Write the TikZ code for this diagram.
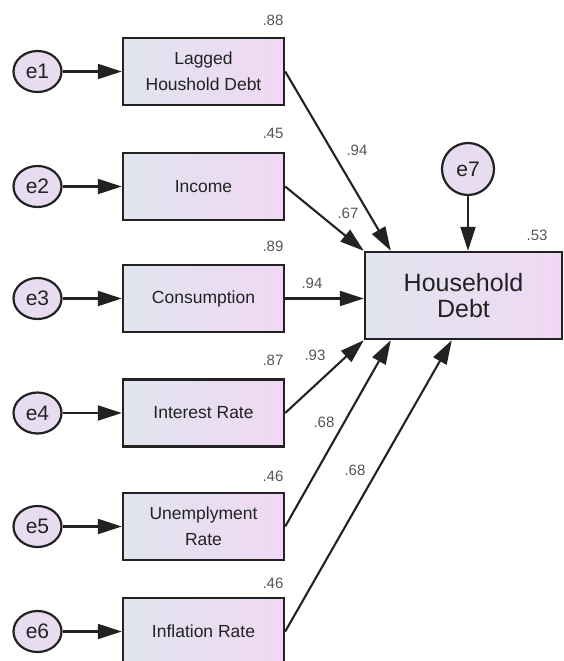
\documentclass[tikz,border=0pt]{standalone}
\usepackage{fontspec}
\setmainfont{Liberation Sans}
\usetikzlibrary{arrows.meta,positioning,shapes.geometric}

\definecolor{boxleft}{HTML}{E0E5EE}
\definecolor{boxright}{HTML}{F0D8F4}
\definecolor{errfill}{HTML}{E8DDF0}
\definecolor{ink}{HTML}{222222}
\definecolor{coef}{HTML}{555555}

\begin{document}
\begin{tikzpicture}[
      x=1pt, y=-1pt,
      font=\fontsize{17.5}{26}\selectfont,
      obs/.style={draw=ink, line width=2.4pt, rectangle, align=center, text=ink,
        minimum width=161pt, minimum height=67pt, left color=boxleft, right color=boxright},
      dep/.style={obs, minimum width=197pt, minimum height=87pt,
        font=\fontsize{25}{26}\selectfont},
      errv/.style={draw=ink, line width=2.2pt, ellipse, fill=errfill, text=ink,
        minimum width=48pt, minimum height=41pt, inner sep=0pt, font=\fontsize{21}{22}\selectfont},
      coefl/.style={text=coef, font=\fontsize{15}{17}\selectfont},
      arrow/.style={-{Triangle[length=24pt, width=15pt]}, line width=2.1pt, draw=ink}
    ]
    \useasboundingbox (0,0) rectangle (564,661);

    \node[obs] (lag) at (203.5,71.5) {Lagged\\Houshold Debt};
    \node[obs] (inc) at (203.5,186.5) {Income};
    \node[obs] (cons) at (203.5,298.5) {Consumption};
    \node[obs] (intr) at (203.5,413) {Interest Rate};
    \node[obs] (unemp) at (203.5,526.5) {Unemplyment\\Rate};
    \node[obs] (infl) at (203.5,631.5) {Inflation Rate};
    \node[dep] (hd) at (463.5,295.5) {Household\\Debt};

    \node[errv] (e1) at (37.5,71.5) {e1};
    \node[errv] (e2) at (37.5,186.5) {e2};
    \node[errv] (e3) at (37.5,298.5) {e3};
    \node[errv] (e4) at (37.5,413) {e4};
    \node[errv] (e5) at (37.5,526.5) {e5};
    \node[errv] (e6) at (37.5,631.5) {e6};
    \node[errv, minimum width=52pt, minimum height=52pt] (e7) at (468,169) {e7};

    % end points on the dependent box
    \coordinate (hdA) at ([xshift=27pt]hd.north west);
    \coordinate (hdE) at ([xshift=27pt]hd.south west);
    \coordinate (hdF) at ([xshift=88pt]hd.south west);

    \draw[arrow] (e1) -- (lag);
    \draw[arrow] (e2) -- (inc);
    \draw[arrow] (e3) -- (cons);
    \draw[arrow] (e4) -- (intr);
    \draw[arrow] (e5) -- (unemp);
    \draw[arrow] (e6) -- (infl);
    \draw[arrow] (e7) -- (e7 |- hd.north);

    \draw[arrow] (lag.east) -- (hdA);
    \draw[arrow] (inc.east) -- (hd.north west);
    \draw[arrow] (cons.east) -- (cons.east -| hd.west);
    \draw[arrow] (intr.east) -- (hd.south west);
    \draw[arrow] (unemp.east) -- (hdE);
    \draw[arrow] (infl.east) -- (hdF);

    % squared multiple correlations
    \node[coefl] (r1) at (273,20) {.88};
    \node[coefl] (r2) at (273,133) {.45};
    \node[coefl] (r3) at (273,246) {.89};
    \node[coefl] (r4) at (273,360) {.87};
    \node[coefl] (r5) at (273,476) {.46};
    \node[coefl] (r6) at (273,583) {.46};
    \node[coefl] (r7) at (537,235) {.53};

    % path coefficients
    \node[coefl] (p1) at (357,150) {.94};
    \node[coefl] (p2) at (348,213) {.67};
    \node[coefl] (p3) at (312,283) {.94};
    \node[coefl] (p4) at (315,355) {.93};
    \node[coefl] (p5) at (324,422) {.68};
    \node[coefl] (p6) at (355,470) {.68};
  \end{tikzpicture}
\end{document}
